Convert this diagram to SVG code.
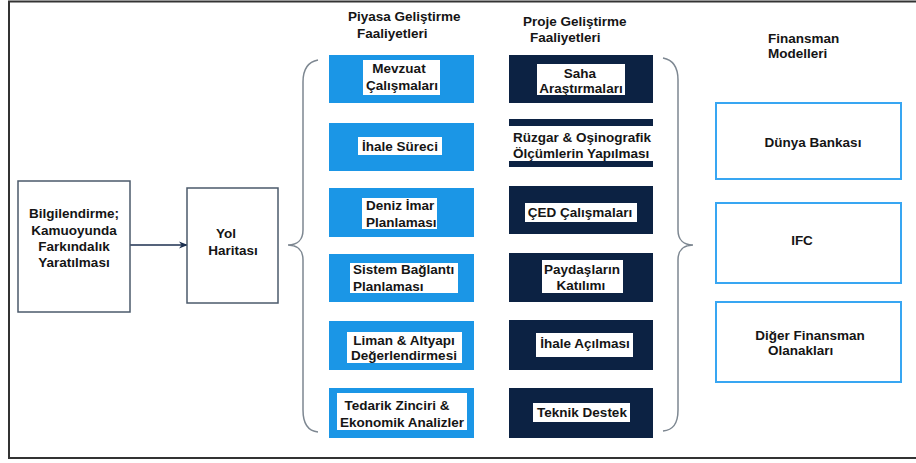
<svg xmlns="http://www.w3.org/2000/svg" width="916" height="463" viewBox="0 0 916 463">
<defs>
<style>
text{font-family:"Liberation Sans",Arial,sans-serif;font-weight:bold;font-size:13.5px;fill:#151515}
.mid{text-anchor:middle}
.blue{fill:#1b96e6}
.navy{fill:#0c2243}
.lbl{fill:#ffffff}
.plain{fill:#ffffff;stroke:#4b5a6b;stroke-width:1.5}
.fin{fill:#ffffff;stroke:#38a6f2;stroke-width:2}
.brace{fill:none;stroke:#7d8791;stroke-width:1.5}
</style>
<marker id="arr" viewBox="0 0 10 10" refX="9" refY="5" markerWidth="9" markerHeight="9" markerUnits="userSpaceOnUse" orient="auto">
<path d="M0,1 L10,5 L0,9 L3,5 Z" fill="#1c2f4f"/>
</marker>
</defs>
<rect width="916" height="463" fill="#ffffff"/>
<path d="M916,1.5 L9,1.5 L9,458 L916,458" fill="none" stroke="#333" stroke-width="2"/>

<text x="348" y="21">Piyasa Geliştirme</text>
<text x="357" y="38">Faaliyetleri</text>
<text x="523" y="26">Proje Geliştirme</text>
<text x="530" y="42">Faaliyetleri</text>
<text x="768" y="43">Finansman</text>
<text x="768" y="58">Modelleri</text>

<g id="connectors">
<line x1="130" y1="245" x2="187" y2="245" stroke="#1c2f4f" stroke-width="1.5" marker-end="url(#arr)"/>
<path class="brace" d="M318,60 C307,62 303,70 303,82 L303,230 C303,240 297,245 288,245 C297,245 303,250 303,260 L303,410 C303,424 308,431 318,432"/>
<path class="brace" d="M663,58 C674,60 678,68 678,80 L678,230 C678,240 684,245 693,245 C684,245 678,250 678,260 L678,410 C678,424 673,430 663,431"/>
</g>

<g id="bilgilendirme">
<rect class="plain" x="18" y="181" width="112" height="131"/>
<text class="mid" x="74" y="218">Bilgilendirme;</text>
<text class="mid" x="74" y="235">Kamuoyunda</text>
<text class="mid" x="74" y="251">Farkındalık</text>
<text class="mid" x="74" y="267">Yaratılması</text>
</g>
<g id="yol">
<rect class="plain" x="187" y="188" width="91" height="115"/>
<text class="mid" x="226" y="238">Yol</text>
<text class="mid" x="233" y="255">Haritası</text>
</g>

<g id="mevzuat">
<rect class="blue" x="329" y="55" width="145" height="48"/>
<rect class="lbl" x="363" y="60" width="77" height="35"/>
<text class="mid" x="399" y="73">Mevzuat</text>
<text class="mid" x="402" y="90">Çalışmaları</text>
</g>
<g id="ihale-sureci">
<rect class="blue" x="329" y="123" width="145" height="48"/>
<rect class="lbl" x="358" y="137" width="84" height="18"/>
<text class="mid" x="400" y="151">İhale Süreci</text>
</g>
<g id="deniz-imar">
<rect class="blue" x="329" y="188" width="145" height="49"/>
<rect class="lbl" x="362" y="198" width="75" height="31"/>
<text x="366" y="210">Deniz İmar</text>
<text x="366" y="227">Planlaması</text>
</g>
<g id="sistem-baglanti">
<rect class="blue" x="329" y="254" width="145" height="48"/>
<rect class="lbl" x="350" y="263" width="108" height="30"/>
<text x="353" y="274">Sistem Bağlantı</text>
<text x="353" y="291">Planlaması</text>
</g>
<g id="liman">
<rect class="blue" x="329" y="321" width="145" height="49"/>
<rect class="lbl" x="347" y="332" width="115" height="31"/>
<text class="mid" x="404" y="345">Liman &amp; Altyapı</text>
<text class="mid" x="404" y="360">Değerlendirmesi</text>
</g>
<g id="tedarik">
<rect class="blue" x="329" y="388" width="145" height="50"/>
<rect class="lbl" x="337" y="393" width="130" height="37"/>
<text class="mid" x="397" y="410">Tedarik Zinciri &amp;</text>
<text class="mid" x="402" y="427">Ekonomik Analizler</text>
</g>

<g id="saha">
<rect class="navy" x="509" y="55" width="144" height="48"/>
<rect class="lbl" x="537" y="64" width="88" height="31"/>
<text class="mid" x="580" y="78">Saha</text>
<text class="mid" x="581" y="93">Araştırmaları</text>
</g>
<g id="ruzgar">
<rect class="navy" x="509" y="119" width="144" height="48"/>
<rect class="lbl" x="509" y="126" width="144" height="35"/>
<text x="513" y="142">Rüzgar &amp; Oşinografik</text>
<text x="513" y="158">Ölçümlerin Yapılması</text>
</g>
<g id="ced">
<rect class="navy" x="509" y="186" width="144" height="48"/>
<rect class="lbl" x="525" y="203" width="112" height="19"/>
<text class="mid" x="580" y="217">ÇED Çalışmaları</text>
</g>
<g id="paydaslar">
<rect class="navy" x="509" y="253" width="144" height="49"/>
<rect class="lbl" x="542" y="260" width="81" height="33"/>
<text class="mid" x="582" y="274">Paydaşların</text>
<text class="mid" x="581" y="290">Katılımı</text>
</g>
<g id="ihale-acilmasi">
<rect class="navy" x="509" y="320" width="144" height="50"/>
<rect class="lbl" x="536" y="333" width="97" height="24"/>
<text class="mid" x="585" y="348">İhale Açılması</text>
</g>
<g id="teknik-destek">
<rect class="navy" x="509" y="388" width="144" height="50"/>
<rect class="lbl" x="533" y="403" width="97" height="19"/>
<text class="mid" x="582" y="417">Teknik Destek</text>
</g>

<g id="dunya-bankasi">
<rect class="fin" x="716" y="103" width="185" height="76"/>
<text class="mid" x="813" y="147">Dünya Bankası</text>
</g>
<g id="ifc">
<rect class="fin" x="716" y="203" width="185" height="80"/>
<text class="mid" x="802" y="245">IFC</text>
</g>
<g id="diger">
<rect class="fin" x="716" y="302" width="185" height="80"/>
<text class="mid" x="810" y="340">Diğer Finansman</text>
<text x="768" y="355">Olanakları</text>
</g>
</svg>
